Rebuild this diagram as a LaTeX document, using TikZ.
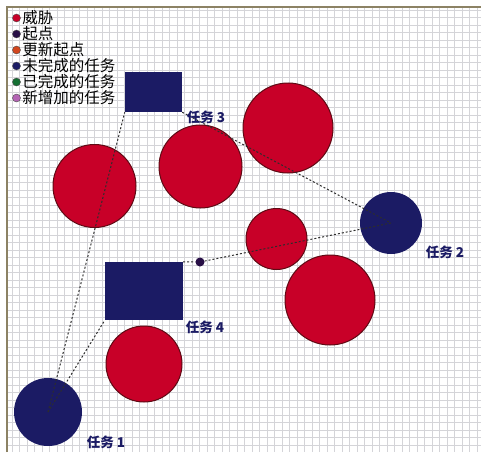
\documentclass[tikz,border=0pt]{standalone}
\usepackage{fontspec}
\newfontfamily\cjk{Noto Sans CJK SC}
\usetikzlibrary{positioning}

\definecolor{threatred}{RGB}{200,0,40}
\definecolor{threatline}{RGB}{95,10,20}
\definecolor{tasknavy}{RGB}{27,27,100}
\definecolor{startpurple}{RGB}{40,15,70}
\definecolor{updateorange}{RGB}{210,70,30}
\definecolor{donegreen}{RGB}{20,110,50}
\definecolor{newpink}{RGB}{180,100,180}
\definecolor{gridgray}{RGB}{212,212,216}
\definecolor{framebrown}{RGB}{140,130,100}
\definecolor{routegray}{RGB}{45,45,45}

\begin{document}
\begin{tikzpicture}[x=1pt, y=-1pt,
  threat/.style={circle, draw=threatline, fill=threatred, line width=1pt, inner sep=0pt},
  task/.style={circle, fill=tasknavy, inner sep=0pt},
  goal/.style={rectangle, fill=tasknavy, inner sep=0pt},
  tasklabel/.style={font=\cjk\bfseries\fontsize{13.5}{14}\selectfont, text=tasknavy, inner sep=0pt},
  route/.style={dash pattern=on 2pt off 2pt, line width=1pt, draw=routegray},
  legend/.style={font=\cjk\fontsize{15.5}{16}\selectfont, anchor=west, inner sep=0pt},
  bullet/.style={circle, draw=black!70, line width=0.4pt, minimum size=8pt, inner sep=0pt},
  gridline/.style={gridgray, line width=0.8pt},
]

\useasboundingbox (0,0) rectangle (481,452);
\fill[white] (0,0) rectangle (481,452);

% === Grid and frame ===
\foreach \gx in {12.3,19.8,...,481} \draw[gridline] (\gx,8) -- (\gx,452);
\foreach \gy in {10,17.5,...,452} \draw[gridline] (8,\gy) -- (481,\gy);
\draw[framebrown, line width=2pt] (7,452) -- (7,7) -- (481,7);

% === Threats ===
\node[threat, minimum size=83pt] (w1) at (94.5,186) {};
\node[threat, minimum size=83pt] (w2) at (200.5,166.5) {};
\node[threat, minimum size=90pt] (w3) at (288,128) {};
\node[threat, minimum size=61pt] (w4) at (276.5,239) {};
\node[threat, minimum size=90pt] (w5) at (330,300) {};
\node[threat, minimum size=76pt] (w6) at (144,364) {};

% === Tasks ===
\node[task, minimum size=68pt] (t1) at (48,412) {};
\node[task, minimum size=62pt] (t2) at (391,223) {};
\node[goal, minimum width=57pt, minimum height=40pt] (t3) at (153.5,92) {};
\node[goal, minimum width=78pt, minimum height=58pt] (t4) at (144,291) {};
\node[circle, fill=startpurple, minimum size=9pt, inner sep=0pt] (start) at (200,262) {};

% === Routes ===
\draw[route] (t1.center) -- (t3.south west);
\draw[route] (t1.center) -- (t4.south west);
\draw[route] (t3.south east) -- (t2.center);
\draw[route] (t4.north east) -- (start) -- (t2.center);

% === Task labels ===
\node[tasklabel] (l1) at (106,442) {任务 1};
\node[tasklabel] (l2) at (445,252) {任务 2};
\node[tasklabel] (l3) at (206,117) {任务 3};
\node[tasklabel] (l4) at (205,327) {任务 4};

% === Legend ===
\foreach \col/\txt [count=\i] in {threatred/威胁, startpurple/起点, updateorange/更新起点,
    tasknavy/未完成的任务, donegreen/已完成的任务, newpink/新增加的任务} {
  \node[bullet, fill=\col] (b\i) at (16.5,2+16*\i) {};
  \node[legend, right=1.5pt of b\i] (k\i) {\txt};
}

\end{tikzpicture}
\end{document}
